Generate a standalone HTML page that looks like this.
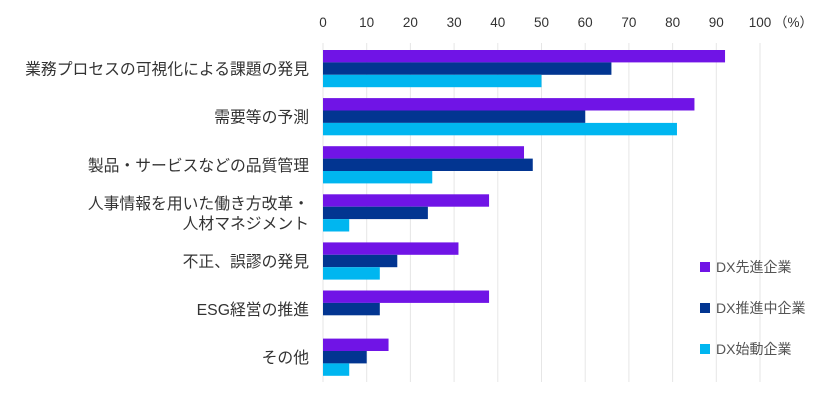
<!DOCTYPE html>
<html><head><meta charset="utf-8"><style>
html,body{margin:0;padding:0;background:#fff;}
svg{display:block;font-family:"Liberation Sans","Noto Sans CJK JP",sans-serif;}
</style></head><body>
<svg id="chart" width="840" height="400"></svg>
<script>
const categories=[["業務プロセスの可視化による課題の発見"],["需要等の予測"],["製品・サービスなどの品質管理"],["人事情報を用いた働き方改革・","人材マネジメント"],["不正、誤謬の発見"],["ESG経営の推進"],["その他"]];
const seriesNames=["DX先進企業","DX推進中企業","DX始動企業"];
const advanced=[92,85,46,38,31,38,15];
const promoting=[66,60,48,24,17,13,10];
const starting=[50,81,25,6,13,0,6];
const ticks=[0,10,20,30,40,50,60,70,80,90,100];
const colors=["#7014e6","#023591","#00b6f0"];
const NS="http://www.w3.org/2000/svg";
const svg=document.getElementById('chart');
const x0=323,x1=760;
function xs(v){return x0+(x1-x0)*v/100;}
function groupY(i){return 50+i*48.1;}
const barH=12.4;
function mk(t,a){const e=document.createElementNS(NS,t);for(const k in a)e.setAttribute(k,a[k]);svg.appendChild(e);return e;}
ticks.forEach(t=>{
  const g=mk('line',{x1:xs(t),x2:xs(t),y1:43,y2:382,stroke:'#e6e6e6','stroke-width':1});
  
  
  const l=mk('text',{x:xs(t),y:27,'text-anchor':'middle','font-size':13.5,fill:'#333'});
  l.textContent=t;
  
  
});
const pct=mk('text',{x:xs(100)+14,y:27,'font-size':13.5,fill:'#333'});
pct.textContent='（%）';


const series=[advanced,promoting,starting];
categories.forEach((c,i)=>{
  const y=groupY(i);
  series.forEach((s,j)=>{
    if(s[i]<=0)return;
    const r=mk('rect',{x:x0,y:y+j*barH,width:xs(s[i])-x0,height:barH,fill:colors[j]});
    
    
  });
  const cy=y+barH*1.5;
  c.forEach((line,k)=>{
    const ty=cy+6-(c.length-1)*10+k*20;
    const t=mk('text',{x:309,y:ty,'text-anchor':'end','font-size':15.8,fill:'#333'});
    t.textContent=line;
    
    
  });
});
seriesNames.forEach((n,j)=>{
  const cy=267+j*41;
  const r=mk('rect',{x:700,y:cy-5,width:10,height:10,fill:colors[j]});
  
  
  const t=mk('text',{x:716,y:cy+5,'font-size':14,fill:'#555'});
  t.textContent=n;
  
  
});
</script>
</body></html>
